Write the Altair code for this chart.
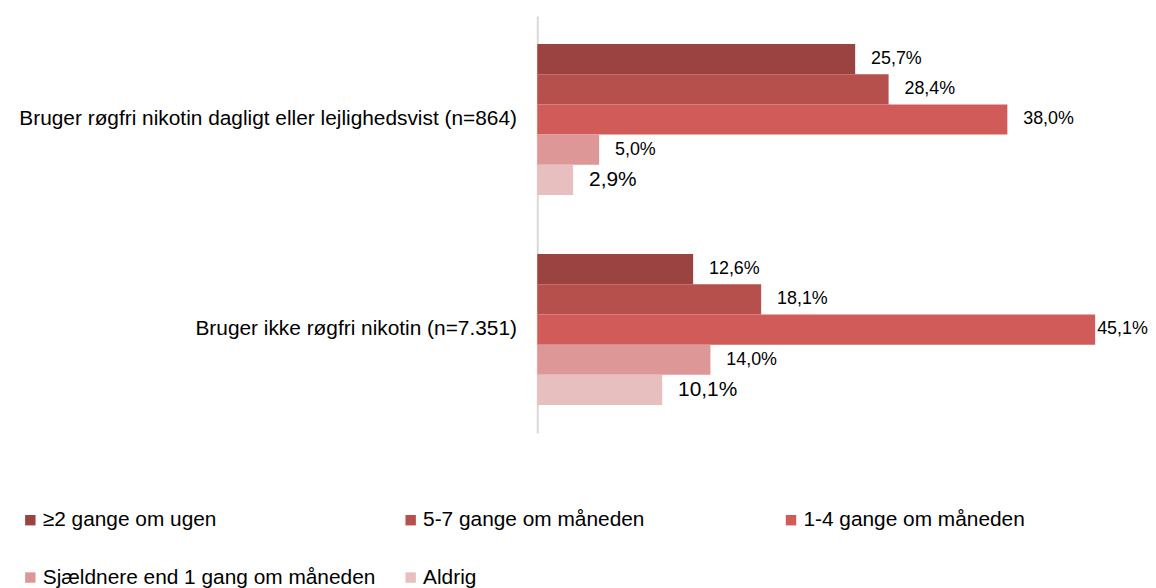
import altair as alt
import pandas as pd

groups = [
    "Bruger røgfri nikotin dagligt eller lejlighedsvist (n=864)",
    "Bruger ikke røgfri nikotin (n=7.351)",
]
series = [
    "≥2 gange om ugen",
    "5-7 gange om måneden",
    "1-4 gange om måneden",
    "Sjældnere end 1 gang om måneden",
    "Aldrig",
]
values_g1 = [25.7, 28.4, 38.0, 5.0, 2.9]
values_g2 = [12.6, 18.1, 45.1, 14.0, 10.1]
colors = ["#9B4341", "#B5504D", "#D05B59", "#DE9797", "#E8BFBF"]

rows = []
for g, vals in zip(groups, [values_g1, values_g2]):
    for s, v in zip(series, vals):
        rows.append({"group": g, "series": s, "value": v})
df = pd.DataFrame(rows)

FONT = "Liberation Sans"

base = alt.Chart(df).encode(
    y=alt.Y(
        "group:N",
        sort=groups,
        scale=alt.Scale(paddingInner=0.281, paddingOuter=0.1335),
        axis=alt.Axis(
            title=None,
            ticks=False,
            grid=False,
            labelFontSize=21,
            labelPadding=21,
            labelLimit=0,
            labelColor="#000000",
            labelFont=FONT,
            domainColor="#d9d9d9",
            domainWidth=2,
        ),
    ),
    yOffset=alt.YOffset("series:N", sort=series, scale=alt.Scale(paddingInner=0, paddingOuter=0)),
    x=alt.X("value:Q", scale=alt.Scale(domain=[0, 46], nice=False, zero=True), axis=None),
)

bars = base.mark_bar().encode(
    color=alt.Color(
        "series:N",
        sort=series,
        scale=alt.Scale(domain=series, range=colors),
        legend=alt.Legend(
            title=None,
            orient="none",
            legendX=-521,
            legendY=497,
            direction="horizontal",
            columns=3,
            columnPadding=24,
            rowPadding=36,
            gridAlign="all",
            labelFontSize=21,
            labelFont=FONT,
            labelColor="#000000",
            labelLimit=0,
            labelOffset=2,
            symbolType="square",
            symbolSize=110,
            symbolStrokeWidth=0,
        ),
    )
)

label_expr = "replace(format(datum.value, '.1f'), '.', ',') + '%'"

size_enc = alt.condition(alt.datum.series == "Aldrig", alt.value(21), alt.value(18))

labels = base.transform_filter("datum.value < 45").transform_calculate(
    lab=label_expr
).mark_text(align="left", baseline="middle", dx=16, font=FONT, color="#000000").encode(
    text="lab:N", size=size_enc
)

labels_big = base.transform_filter("datum.value >= 45").transform_calculate(
    lab=label_expr
).mark_text(align="left", baseline="middle", dx=2, font=FONT, color="#000000").encode(
    text="lab:N", size=size_enc
)

chart = (
    alt.layer(bars, labels, labels_big)
    .properties(
        width=573,
        height=420,
        padding={"left": 10, "top": 6, "right": 0, "bottom": 0},
    )
    .configure_view(stroke=None)
)

chart.save("out.html", embed_options={"renderer": "svg", "actions": False})
